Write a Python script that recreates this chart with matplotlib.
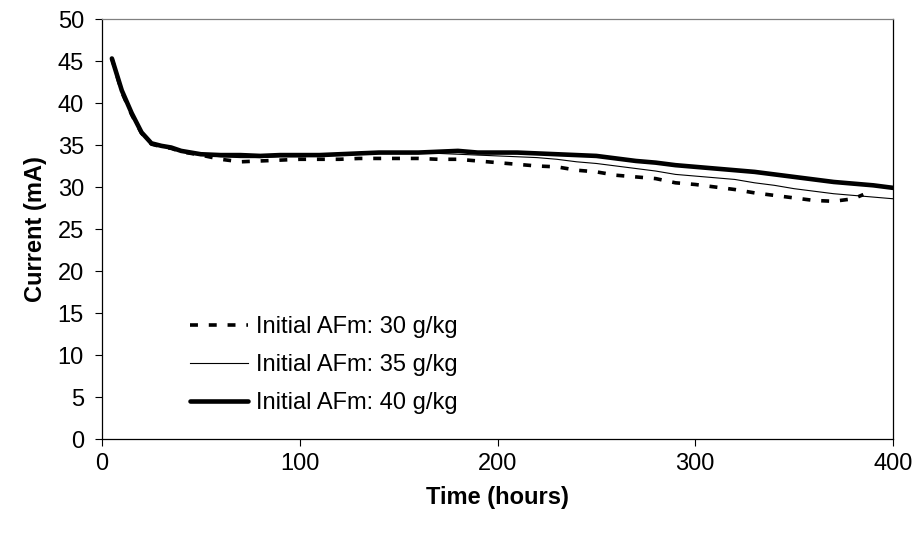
import matplotlib
matplotlib.use("Agg")
import matplotlib.pyplot as plt

plt.rcParams['font.family'] = ['Liberation Sans', 'DejaVu Sans']

t_30 = [5, 10, 15, 20, 25, 30, 35, 40, 50, 60, 70, 80, 90, 100, 110, 120, 130, 140, 150,
        160, 170, 180, 190, 200, 210, 220, 230, 240, 250, 260, 270, 280, 290, 300, 310,
        320, 330, 340, 350, 360, 370, 380, 385]
i_30 = [45.3, 41.3, 38.6, 36.4, 35.1, 34.8, 34.6, 34.2, 33.8, 33.3, 33.0, 33.1, 33.2, 33.3,
        33.3, 33.3, 33.4, 33.4, 33.4, 33.4, 33.3, 33.3, 33.1, 32.9, 32.7, 32.5, 32.4, 32.0,
        31.8, 31.4, 31.2, 31.0, 30.5, 30.3, 30.0, 29.7, 29.3, 29.0, 28.7, 28.4, 28.3, 28.6, 29.1]

t_35 = [5, 10, 15, 20, 25, 30, 35, 40, 50, 60, 70, 80, 90, 100, 110, 120, 130, 140, 150,
        160, 170, 180, 190, 200, 210, 220, 230, 240, 250, 260, 270, 280, 290, 300, 310,
        320, 330, 340, 350, 360, 370, 380, 390, 400]
i_35 = [45.0, 41.3, 38.6, 36.3, 35.1, 34.8, 34.6, 34.2, 33.8, 33.6, 33.5, 33.5, 33.6, 33.6,
        33.7, 33.8, 33.9, 34.0, 34.0, 34.0, 34.0, 33.9, 33.8, 33.7, 33.6, 33.5, 33.3, 33.0,
        32.8, 32.5, 32.2, 31.9, 31.5, 31.3, 31.1, 30.9, 30.5, 30.2, 29.8, 29.5, 29.2, 29.0,
        28.8, 28.6]

t_40 = [5, 10, 15, 20, 25, 30, 35, 40, 50, 60, 70, 80, 90, 100, 110, 120, 130, 140, 150,
        160, 170, 180, 190, 200, 210, 220, 230, 240, 250, 260, 270, 280, 290, 300, 310,
        320, 330, 340, 350, 360, 370, 380, 390, 400]
i_40 = [45.3, 41.5, 38.8, 36.5, 35.2, 34.9, 34.7, 34.3, 33.9, 33.8, 33.8, 33.7, 33.8, 33.8,
        33.8, 33.9, 34.0, 34.1, 34.1, 34.1, 34.2, 34.3, 34.1, 34.1, 34.1, 34.0, 33.9, 33.8,
        33.7, 33.4, 33.1, 32.9, 32.6, 32.4, 32.2, 32.0, 31.8, 31.5, 31.2, 30.9, 30.6, 30.4,
        30.2, 29.9]

labels = ["Initial AFm: 30 g/kg", "Initial AFm: 35 g/kg", "Initial AFm: 40 g/kg"]
x_ticks = [0, 100, 200, 300, 400]
y_ticks = [0, 5, 10, 15, 20, 25, 30, 35, 40, 45, 50]

FS = 17

fig = plt.figure(figsize=(9.17, 5.35), dpi=100)
ax = fig.add_axes([102/917, 1 - 439/535, 791/917, 420/535])

ax.plot(t_30, i_30, color='black', lw=2.6, linestyle=(0, (2.2, 3.0)), label=labels[0])
ax.plot(t_35, i_35, color='black', lw=0.8, label=labels[1])
ax.plot(t_40, i_40, color='black', lw=3.3, label=labels[2], solid_capstyle='round')

ax.set_xlim(0, 400)
ax.set_ylim(0, 50)
ax.set_xticks(x_ticks)
ax.set_yticks(y_ticks)
ax.tick_params(direction='out', length=5, width=0.8, labelsize=FS, colors='black')
ax.tick_params(axis='y', pad=8)
ax.tick_params(axis='x', pad=5)
for s in ['left', 'bottom', 'right']:
    ax.spines[s].set_color('black')
    ax.spines[s].set_linewidth(0.9)
ax.spines['top'].set_color('#808080')
ax.spines['top'].set_linewidth(0.9)

ax.set_xlabel("Time (hours)", fontsize=FS, fontweight='bold', labelpad=8)
ax.set_ylabel("Current (mA)", fontsize=FS, fontweight='bold', labelpad=8)

ax.legend(loc='upper left', bbox_to_anchor=(0.1115, 0.293), frameon=False, fontsize=FS,
          handlelength=2.46, handletextpad=0.34, labelspacing=0.68, borderpad=0,
          borderaxespad=0)

fig.savefig("out.png", dpi=100)
